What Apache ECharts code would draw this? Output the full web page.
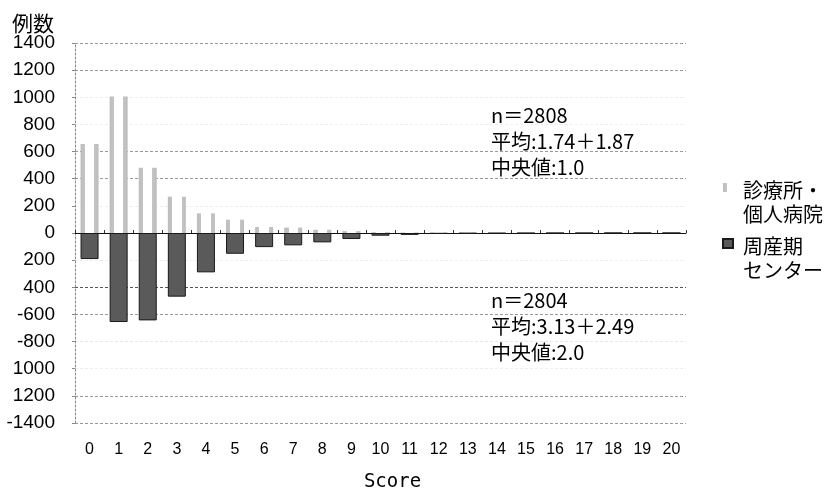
<!DOCTYPE html>
<html>
<head>
<meta charset="utf-8">
<script src="https://cdn.jsdelivr.net/npm/echarts@6/dist/echarts.min.js"></script>
<style>
  html, body { margin: 0; padding: 0; background: #fff; }
  #chart { width: 826px; height: 491px; }
</style>
</head>
<body>
<div id="chart"></div>
<script>
// Score 0..20
const scores = ['0','1','2','3','4','5','6','7','8','9','10','11','12','13','14','15','16','17','18','19','20'];
// 診療所・個人病院 (plotted upward)
const clinicCounts = [655, 1005, 480, 268, 145, 98, 44, 40, 24, 14, 6, 4, 3, 2, 1, 1, 0, 0, 0, 0, 0];
// 周産期センター (plotted downward)
const centerCounts = [-192, -656, -644, -469, -290, -153, -104, -91, -69, -44, -20, -14, -6, -4, -3, -2, -1, -1, 0, 0, 0];
// y tick values and their printed labels
const yTickValues = [-1400, -1200, -1000, -800, -600, -400, -200, 0, 200, 400, 600, 800, 1000, 1200, 1400];
const yTickLabels = ['-1400', '1200', '1000', '-800', '-600', '400', '200', '0', '200', '400', '600', '800', '1000', '1200', '1400'];

const seriesNames = ['診療所・個人病院', '周産期センター'];
const legendLabels = { '診療所・個人病院': '診療所・\n個人病院', '周産期センター': '周産期\nセンター' };

const upperStats = ['n＝2808', '平均:1.74＋1.87', '中央値:1.0'];
const lowerStats = ['n＝2804', '平均:3.13＋2.49', '中央値:2.0'];

const FONT = '"Liberation Sans", "Noto Sans CJK JP", sans-serif';
const CJK = '"Noto Sans CJK JP", "Liberation Sans", sans-serif';

// per-gridline shade, listed from -1400 upward
const gridLineColors = ['#999', '#999', '#eee', '#e8e8e8', '#999', '#555', '#eee', '#ffffff',
                        '#eee', '#999', '#999', '#eee', '#eee', '#999', '#999'];

// legend swatch sitting beside the first text line, with spacing before the text
const swatchIcon = 'path://M0,5L10,5L10,14L0,14Z M0,0L0,0 M15,48L15,48';

const chart = echarts.init(document.getElementById('chart'), null, { renderer: 'canvas' });

function statText(lines, top) {
  return {
    type: 'text', left: 491, top: top,
    style: { text: lines.join('\n'), font: '20px ' + CJK, fill: '#000', lineHeight: 26 }
  };
}

chart.setOption({
  animation: false,
  backgroundColor: '#fff',
  title: {
    text: '例数', left: 7, top: 8,
    textStyle: { fontFamily: CJK, fontSize: 21, fontWeight: 'normal', color: '#000' }
  },
  grid: { left: 75, right: 140, top: 43, bottom: 68, outerBoundsMode: 'none', containLabel: false },
  legend: {
    orient: 'vertical', left: 722, top: 178, padding: 0,
    itemWidth: 15, itemHeight: 48, itemGap: 7,
    icon: swatchIcon,
    data: seriesNames,
    formatter: name => legendLabels[name],
    textStyle: { fontFamily: CJK, fontSize: 20, color: '#000', lineHeight: 24 }
  },
  xAxis: [
    {
      type: 'category', data: scores, position: 'bottom',
      axisLine: { show: false, onZero: false },
      axisTick: { show: false },
      axisLabel: { fontFamily: FONT, fontSize: 16, color: '#000', margin: 19 },
      name: 'Score', nameLocation: 'middle', nameGap: 50,
      nameTextStyle: { fontFamily: '"DejaVu Sans Mono", monospace', fontSize: 19, color: '#000', padding: [0, 0, 0, 24] }
    },
    {
      type: 'category', data: scores, position: 'bottom',
      axisLine: { show: true, onZero: true, lineStyle: { color: '#111', width: 1 } },
      axisTick: { show: true, inside: true, length: 3, lineStyle: { color: '#333' } },
      axisLabel: { show: false }
    }
  ],
  yAxis: {
    type: 'value', min: -1400, max: 1400, interval: 200,
    axisLine: { show: true, lineStyle: { color: '#888', type: [2, 2] } },
    axisTick: { show: true, length: 3, lineStyle: { color: '#888' } },
    axisLabel: {
      fontFamily: FONT, fontSize: 19, color: '#000', margin: 20,
      formatter: v => yTickLabels[yTickValues.indexOf(v)]
    },
    splitLine: { show: true, lineStyle: { color: gridLineColors, type: [3, 2], width: 1 } }
  },
  series: [
    {
      name: seriesNames[0], type: 'bar', data: clinicCounts, barWidth: 18, barGap: '-100%',
      itemStyle: {
        color: {
          type: 'linear', x: 0, y: 0, x2: 1, y2: 0,
          colorStops: [
            { offset: 0, color: '#bdbdbd' }, { offset: 0.24, color: '#c4c4c4' },
            { offset: 0.24, color: '#ffffff' }, { offset: 0.76, color: '#ffffff' },
            { offset: 0.76, color: '#c4c4c4' }, { offset: 1, color: '#bdbdbd' }
          ]
        }
      }
    },
    {
      name: seriesNames[1], type: 'bar', data: centerCounts, barWidth: 18, barGap: '-100%',
      itemStyle: { color: '#5a5a5a', borderColor: '#1a1a1a', borderWidth: 1 }
    }
  ],
  graphic: [statText(upperStats, 102), statText(lowerStats, 287)]
});
</script>
</body>
</html>
